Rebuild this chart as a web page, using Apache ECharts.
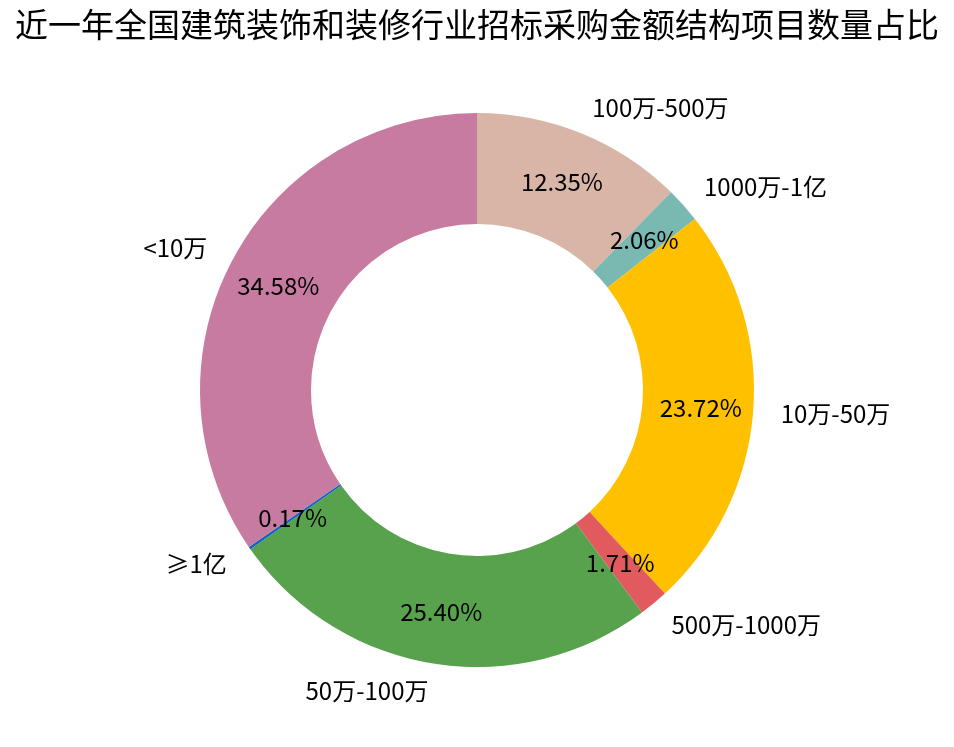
<!DOCTYPE html>
<html>
<head>
<meta charset="utf-8">
<script src="https://cdn.jsdelivr.net/npm/echarts@6/dist/echarts.min.js"></script>
<style>
html,body{margin:0;padding:0;background:#fff;}
#chart{width:954px;height:747px;}
</style>
</head>
<body>
<div id="chart"></div>
<script>
const titleText = '近一年全国建筑装饰和装修行业招标采购金额结构项目数量占比';
const categories = ['100万-500万', '1000万-1亿', '10万-50万', '500万-1000万', '50万-100万', '≥1亿', '<10万'];
const values = [12.35, 2.06, 23.72, 1.71, 25.40, 0.17, 34.58];
const colors = ['#D8B5A6', '#7AB8B2', '#FFC000', '#E15A5E', '#58A24E', '#1565C0', '#C77BA0'];

const FONT = '"Noto Sans CJK SC", "Microsoft YaHei", sans-serif';
const R = 277, R0 = 166;
const cx = 477, cy = 390;

const data = categories.map((n, i) => ({ name: n, value: values[i], itemStyle: { color: colors[i] } }));
const dataT = categories.map((n, i) => ({ name: n, value: values[i] }));

const chart = echarts.init(document.getElementById('chart'), null, { renderer: 'canvas' });
chart.setOption({
  backgroundColor: '#ffffff',
  animation: false,
  title: {
    text: titleText,
    left: 'center',
    top: 3,
    textStyle: { fontFamily: FONT, fontSize: 33, fontWeight: 'normal', color: '#000' }
  },
  series: [
    {
      type: 'pie',
      center: [cx, cy],
      radius: [R0, R],
      startAngle: 90,
      clockwise: true,
      avoidLabelOverlap: false,
      minAngle: 0,
      silent: true,
      itemStyle: { borderWidth: 0 },
      label: {
        show: true,
        position: 'outside',
        formatter: '{b}',
        fontFamily: FONT,
        fontSize: 24,
        color: '#000',
        distanceToLabelLine: 0
      },
      labelLine: { show: false, length: R * 0.1, length2: 0 },
      data: data
    },
    {
      type: 'pie',
      center: [cx, cy],
      radius: [R0, R],
      startAngle: 90,
      clockwise: true,
      avoidLabelOverlap: false,
      silent: true,
      itemStyle: { color: 'rgba(0,0,0,0)', borderWidth: 0 },
      label: {
        show: true,
        position: 'inside',
        formatter: p => p.value.toFixed(2) + '%',
        fontFamily: FONT,
        fontSize: 24,
        color: '#000'
      },
      labelLine: { show: false },
      data: dataT
    }
  ]
});
</script>
</body>
</html>
